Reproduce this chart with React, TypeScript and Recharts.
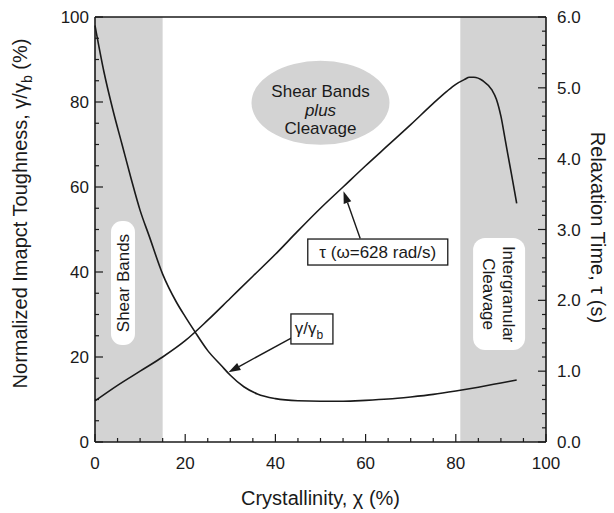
import React from "react";
import {
  ComposedChart,
  Line,
  XAxis,
  YAxis,
  ReferenceArea,
  ReferenceDot,
  ReferenceLine,
} from "recharts";

// γ/γb (left axis, %) vs crystallinity
const toughX = [0, 2, 4, 6, 8, 10, 12, 15, 18, 20, 22, 25, 28, 30, 33, 36, 40, 45, 50, 55, 60, 65, 70, 75, 80, 85, 90, 93.5];
const toughY = [98, 87, 78, 70, 62, 54.5, 48.5, 39.5, 33, 29.5, 26.2, 21.5, 18, 15.7, 13, 11.3, 10.2, 9.7, 9.6, 9.6, 9.8, 10.1, 10.6, 11.2, 12, 12.9, 13.9, 14.6];

// τ at ω = 628 rad/s (right axis, s)
const tauX = [0, 5, 10, 15, 20, 25, 30, 35, 40, 45, 50, 55, 60, 65, 70, 75, 78, 80, 82, 83, 84, 86, 88, 89, 90, 91, 92, 93, 93.5];
const tauY = [0.58, 0.8, 1.0, 1.2, 1.43, 1.72, 2.03, 2.34, 2.65, 2.98, 3.3, 3.6, 3.9, 4.19, 4.48, 4.78, 4.95, 5.05, 5.12, 5.15, 5.15, 5.1, 4.97, 4.84, 4.6, 4.25, 3.9, 3.55, 3.37];

// fracture regimes (crystallinity ranges)
const shearBandsRange = [0, 15];
const cleavageRange = [81, 100];

const xTicks = [0, 5, 10, 15, 20, 25, 30, 35, 40, 45, 50, 55, 60, 65, 70, 75, 80, 85, 90, 95, 100];
const leftTicks = [0, 5, 10, 15, 20, 25, 30, 35, 40, 45, 50, 55, 60, 65, 70, 75, 80, 85, 90, 95, 100];
const rightTicks = [0, 0.2, 0.4, 0.6, 0.8, 1, 1.2, 1.4, 1.6, 1.8, 2, 2.2, 2.4, 2.6, 2.8, 3, 3.2, 3.4, 3.6, 3.8, 4, 4.2, 4.4, 4.6, 4.8, 5, 5.2, 5.4, 5.6, 5.8, 6];

const toughData = toughX.map((x, i) => ({ x, g: toughY[i] }));
const tauData = tauX.map((x, i) => ({ x, t: tauY[i] }));

const INK = "#1a1a1a";
const SHADE = "#d3d3d3";
const FONT = "'Liberation Sans', Arial, Helvetica, sans-serif";

const BottomTick = (p: any) => {
  const v = p.payload.value;
  const major = v % 20 === 0;
  return (
    <g>
      <line x1={p.x} x2={p.x} y1={p.y} y2={p.y - (major ? 8 : 4)} stroke={INK} strokeWidth={1.2} />
      {major && (
        <text x={p.x} y={p.y + 27} textAnchor="middle" fontSize={17} fill={INK} fontFamily={FONT}>
          {v}
        </text>
      )}
    </g>
  );
};

const TopTick = (p: any) => {
  const v = p.payload.value;
  const major = v % 20 === 0;
  return <line x1={p.x} x2={p.x} y1={p.y} y2={p.y + (major ? 8 : 4)} stroke={INK} strokeWidth={1.2} />;
};

const LeftTick = (p: any) => {
  const v = p.payload.value;
  const major = v % 20 === 0;
  return (
    <g>
      <line x1={p.x} x2={p.x + (major ? 8 : 4)} y1={p.y} y2={p.y} stroke={INK} strokeWidth={1.2} />
      {major && (
        <text x={p.x - 6} y={p.y} dy="0.36em" textAnchor="end" fontSize={17} fill={INK} fontFamily={FONT}>
          {v}
        </text>
      )}
    </g>
  );
};

const RightTick = (p: any) => {
  const v = p.payload.value;
  const major = Math.abs(v - Math.round(v)) < 1e-6;
  return (
    <g>
      <line x1={p.x} x2={p.x - (major ? 8 : 4)} y1={p.y} y2={p.y} stroke={INK} strokeWidth={1.2} />
      {major && (
        <text x={p.x + 11} y={p.y} dy="0.36em" textAnchor="start" fontSize={17} fill={INK} fontFamily={FONT}>
          {v.toFixed(1)}
        </text>
      )}
    </g>
  );
};

const Arrow = (p: any) => {
  const { x1, y1, x2, y2 } = p;
  const ang = Math.atan2(y2 - y1, x2 - x1);
  const L = 12;
  const W = 4;
  const bx = x2 - L * Math.cos(ang);
  const by = y2 - L * Math.sin(ang);
  const px = -Math.sin(ang) * W;
  const py = Math.cos(ang) * W;
  return (
    <g>
      <line x1={x1} y1={y1} x2={bx} y2={by} stroke={INK} strokeWidth={1.4} />
      <polygon points={`${x2},${y2} ${bx + px},${by + py} ${bx - px},${by - py}`} fill={INK} />
    </g>
  );
};

const MixedRegime = ({ cx, cy }: any) => (
  <g fontFamily={FONT}>
    <ellipse cx={cx} cy={cy} rx={69} ry={42} fill={SHADE} />
    <text x={cx} y={cy - 12} dy="0.35em" textAnchor="middle" fontSize={17} fill={INK}>Shear Bands</text>
    <text x={cx} y={cy + 7} dy="0.35em" textAnchor="middle" fontSize={17} fill={INK} fontStyle="italic">plus</text>
    <text x={cx} y={cy + 25} dy="0.35em" textAnchor="middle" fontSize={17} fill={INK}>Cleavage</text>
  </g>
);

const ShearBandsTag = ({ cx, cy }: any) => (
  <g fontFamily={FONT}>
    <rect x={cx - 12} y={cy - 62} width={24} height={124} rx={11} fill="#fff" />
    <text x={cx} y={cy} dy="0.35em" textAnchor="middle" fontSize={17} fill={INK} transform={`rotate(-90, ${cx}, ${cy})`}>
      Shear Bands
    </text>
  </g>
);

const CleavageTag = ({ cx, cy }: any) => (
  <g fontFamily={FONT}>
    <rect x={cx - 26} y={cy - 56} width={52} height={112} rx={12} fill="#fff" />
    <g transform={`rotate(90, ${cx}, ${cy})`}>
      <text x={cx} y={cy - 10} dy="0.35em" textAnchor="middle" fontSize={17} fill={INK}>Intergranular</text>
      <text x={cx} y={cy + 10} dy="0.35em" textAnchor="middle" fontSize={17} fill={INK}>Cleavage</text>
    </g>
  </g>
);

const TauTag = ({ cx, cy }: any) => (
  <g fontFamily={FONT}>
    <rect x={cx - 70} y={cy - 13} width={140} height={26} fill="#fff" stroke={INK} strokeWidth={1.3} />
    <text x={cx} y={cy} dy="0.35em" textAnchor="middle" fontSize={17} fill={INK}>τ (ω=628 rad/s)</text>
  </g>
);

const GammaTag = ({ cx, cy }: any) => (
  <g fontFamily={FONT}>
    <rect x={cx - 21} y={cy - 15} width={42} height={30} fill="#fff" stroke={INK} strokeWidth={1.3} />
    <text x={cx - 3} y={cy} dy="0.3em" textAnchor="middle" fontSize={17} fill={INK}>
      γ/γ<tspan dy={5} fontSize={12} fill={INK}>b</tspan>
    </text>
  </g>
);

const LeftTitle = ({ viewBox }: any) => {
  const cx = 20;
  const cy = viewBox.y + viewBox.height / 2 - 16;
  return (
    <text x={cx} y={cy} dy="0.35em" textAnchor="middle" fontSize={20} fill={INK} fontFamily={FONT}
      transform={`rotate(-90, ${cx}, ${cy})`}>
      Normalized Imapct Toughness, γ/γ<tspan dy={5} fontSize={14} fill={INK}>b</tspan>
      <tspan dy={-5} fill={INK}> (%)</tspan>
    </text>
  );
};

const RightTitle = ({ viewBox }: any) => {
  const cx = 598;
  const cy = viewBox.y + viewBox.height / 2 - 2;
  return (
    <text x={cx} y={cy} dy="0.35em" textAnchor="middle" fontSize={20} fill={INK} fontFamily={FONT}
      transform={`rotate(90, ${cx}, ${cy})`}>
      Relaxation Time, τ (s)
    </text>
  );
};

const BottomTitle = ({ viewBox }: any) => (
  <text x={viewBox.x + viewBox.width / 2} y={505} textAnchor="middle" fontSize={20} fill={INK} fontFamily={FONT}>
    Crystallinity, χ (%)
  </text>
);

export default function App() {
  return (
    <div style={{ position: "absolute", left: 0, top: 0, background: "#fff" }}>
      <ComposedChart width={614} height={513} margin={{ top: 7, right: 0, bottom: 0, left: 0 }}>
        <XAxis
          dataKey="x"
          type="number"
          domain={[0, 100]}
          ticks={xTicks}
          interval={0}
          height={71}
          tickSize={0}
          tickMargin={0}
          tickLine={false}
          tick={<BottomTick />}
          axisLine={{ stroke: INK, strokeWidth: 1.6 }}
          label={<BottomTitle />}
        />
        <XAxis
          xAxisId="top"
          orientation="top"
          type="number"
          domain={[0, 100]}
          ticks={xTicks}
          interval={0}
          height={10}
          tickSize={0}
          tickMargin={0}
          tickLine={false}
          tick={<TopTick />}
          axisLine={{ stroke: INK, strokeWidth: 1.6 }}
        />
        <YAxis
          yAxisId="left"
          type="number"
          domain={[0, 100]}
          ticks={leftTicks}
          interval={0}
          width={95}
          tickSize={0}
          tickMargin={0}
          tickLine={false}
          tick={<LeftTick />}
          axisLine={{ stroke: INK, strokeWidth: 1.6 }}
          label={<LeftTitle />}
        />
        <YAxis
          yAxisId="right"
          orientation="right"
          type="number"
          domain={[0, 6]}
          ticks={rightTicks}
          interval={0}
          width={68}
          tickSize={0}
          tickMargin={0}
          tickLine={false}
          tick={<RightTick />}
          axisLine={{ stroke: INK, strokeWidth: 1.6 }}
          label={<RightTitle />}
        />

        <ReferenceArea yAxisId="left" x1={shearBandsRange[0]} x2={shearBandsRange[1]} fill={SHADE} fillOpacity={1} stroke="none" />
        <ReferenceArea yAxisId="left" x1={cleavageRange[0]} x2={cleavageRange[1]} fill={SHADE} fillOpacity={1} stroke="none" />

        <ReferenceDot yAxisId="left" x={6.2} y={37.4} shape={<ShearBandsTag />} />
        <ReferenceDot yAxisId="left" x={89.6} y={34.8} shape={<CleavageTag />} />
        <ReferenceDot yAxisId="left" x={50} y={79.8} shape={<MixedRegime />} />

        <Line
          data={tauData}
          yAxisId="right"
          dataKey="t"
          type="monotone"
          stroke={INK}
          strokeWidth={1.6}
          dot={false}
          activeDot={false}
          isAnimationActive={false}
        />
        <Line
          data={toughData}
          yAxisId="left"
          dataKey="g"
          type="monotone"
          stroke={INK}
          strokeWidth={1.6}
          dot={false}
          activeDot={false}
          isAnimationActive={false}
        />

        <ReferenceLine yAxisId="left" segment={[{ x: 58.8, y: 47.9 }, { x: 55.1, y: 59 }]} shape={<Arrow />} />
        <ReferenceLine yAxisId="left" segment={[{ x: 43.6, y: 24.5 }, { x: 29.6, y: 16.4 }]} shape={<Arrow />} />
        <ReferenceDot yAxisId="left" x={62.7} y={44.7} shape={<TauTag />} />
        <ReferenceDot yAxisId="left" x={48.1} y={26.6} shape={<GammaTag />} />
      </ComposedChart>
    </div>
  );
}
